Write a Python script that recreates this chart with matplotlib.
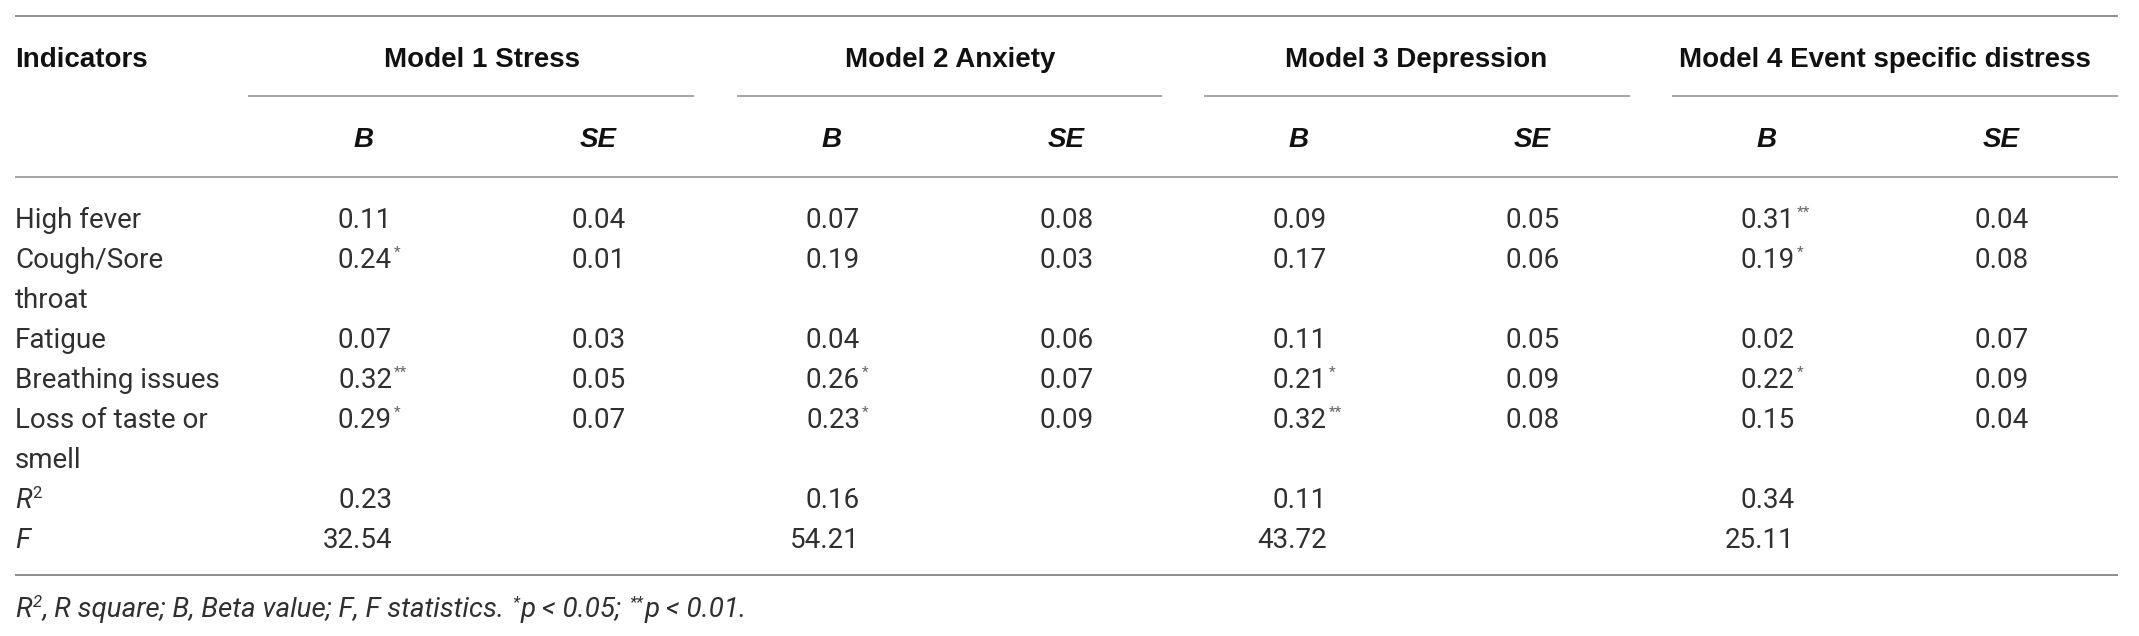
import matplotlib
matplotlib.use("Agg")
import matplotlib.pyplot as plt

plt.rcParams['font.family'] = ['Liberation Sans', 'DejaVu Sans']

BODY = ['Roboto', 'Liberation Sans', 'DejaVu Sans']
BW = 'normal'

# ---------------- data ----------------
indicators = ["High fever", "Cough/Sore\nthroat", "Fatigue", "Breathing issues", "Loss of taste or\nsmell"]
models = ["Model 1 Stress", "Model 2 Anxiety", "Model 3 Depression", "Model 4 Event specific distress"]
sub_headers = ["B", "SE"]

m1_B = [0.11, 0.24, 0.07, 0.32, 0.29]
m1_sig = ["", "*", "", "**", "*"]
m1_SE = [0.04, 0.01, 0.03, 0.05, 0.07]

m2_B = [0.07, 0.19, 0.04, 0.26, 0.23]
m2_sig = ["", "", "", "*", "*"]
m2_SE = [0.08, 0.03, 0.06, 0.07, 0.09]

m3_B = [0.09, 0.17, 0.11, 0.21, 0.32]
m3_sig = ["", "", "", "*", "**"]
m3_SE = [0.05, 0.06, 0.05, 0.09, 0.08]

m4_B = [0.31, 0.19, 0.02, 0.22, 0.15]
m4_sig = ["**", "*", "", "*", ""]
m4_SE = [0.04, 0.08, 0.07, 0.09, 0.04]

r_squared = [0.23, 0.16, 0.11, 0.34]
f_stats = [32.54, 54.21, 43.72, 25.11]

footnote_parts = [("R", False), ("2", True),
                  (", R square; B, Beta value; F, F statistics. ", False),
                  ("*", True), ("p < 0.05; ", False), ("**", True), ("p < 0.01.", False)]

# ---------------- layout ----------------
W, H = 2139, 636
fig = plt.figure(figsize=(W / 100, H / 100), dpi=100)
ax = fig.add_axes([0, 0, 1, 1])
ax.set_xlim(0, W)
ax.set_ylim(H, 0)
ax.axis("off")
renderer = fig.canvas.get_renderer()

TXT = "#303030"
LINE = "#8c8c8c"
FS = 20
left = 15
right = 2118

col_right = [392, 626, 860, 1094, 1327, 1560, 1795, 2029]
group_span = [(248, 694), (737, 1162), (1204, 1630), (1672, 2118)]

ax.plot([left, right], [16, 16], color=LINE, lw=1.4, solid_capstyle="butt")
ax.plot([left, right], [177, 177], color=LINE, lw=1.1, solid_capstyle="butt")
ax.plot([left, right], [575, 575], color=LINE, lw=1.4, solid_capstyle="butt")
for (a, b) in group_span:
    ax.plot([a, b], [96, 96], color=LINE, lw=1.1, solid_capstyle="butt")

ax.text(left, 67, "Indicators", fontsize=FS, fontweight="bold", color="#111111",
        ha="left", va="baseline")
centers = [482, 950, 1416, 1885]
for name, cx in zip(models, centers):
    ax.text(cx, 67, name, fontsize=FS, fontweight="bold", color="#111111",
            ha="center", va="baseline")
for i, xr in enumerate(col_right):
    ax.text(xr - 28, 147, sub_headers[i % 2], fontsize=FS, fontweight="bold",
            style="italic", color="#111111", ha="center", va="baseline")

row_base = [228, 268, 348, 388, 428]
line_gap = 40


def body(x, y, s, fs=FS, color=TXT, **kw):
    return ax.text(x, y, s, fontsize=fs, color=color, family=BODY, fontweight=BW,
                   va="baseline", **kw)


def right_edge(t):
    bb = t.get_window_extent(renderer)
    return ax.transData.inverted().transform((bb.x1, bb.y0))[0]


def cell(x_right, y, val, sig=""):
    body(x_right, y, f"{val:.2f}", ha="right")
    if sig:
        body(x_right + 2, y - 11, sig, fs=11, color="#666666", ha="left")


for r, label in enumerate(indicators):
    y = row_base[r]
    for k, part in enumerate(label.split("\n")):
        body(left, y + k * line_gap, part, ha="left")

B_cols = [m1_B, m2_B, m3_B, m4_B]
S_cols = [m1_SE, m2_SE, m3_SE, m4_SE]
sig_cols = [m1_sig, m2_sig, m3_sig, m4_sig]
for m in range(4):
    for r in range(len(indicators)):
        cell(col_right[2 * m], row_base[r], B_cols[m][r], sig_cols[m][r])
        cell(col_right[2 * m + 1], row_base[r], S_cols[m][r])

y_r2, y_f = 508, 548
t = body(left, y_r2, "R", style="italic", ha="left")
body(right_edge(t) + 1, y_r2 - 10, "2", fs=12, ha="left")
body(left, y_f, "F", style="italic", ha="left")
for m in range(4):
    cell(col_right[2 * m], y_r2, r_squared[m])
    cell(col_right[2 * m], y_f, f_stats[m])

# footnote, drawn piecewise so superscripts are small and raised
x = left
y_fn = 617
for s, sup in footnote_parts:
    if sup:
        t = body(x + 1, y_fn - 10, s, fs=12, style="italic", ha="left")
        x = right_edge(t) + 1
    else:
        t = body(x, y_fn, s, fs=20, style="italic", ha="left")
        x = right_edge(t)

fig.savefig("out.png", dpi=100, facecolor="white")
